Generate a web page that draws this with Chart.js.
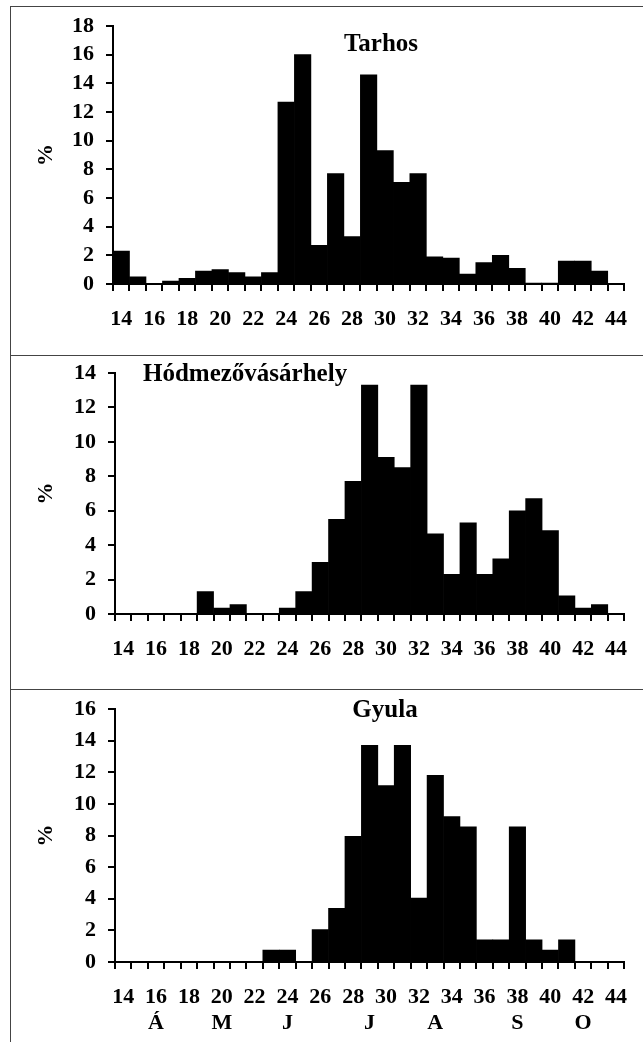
<!DOCTYPE html>
<html>
<head>
<meta charset="utf-8">
<script src="https://cdn.jsdelivr.net/npm/chart.js@4"></script>
<style>
  body { margin: 0; background: #fff; }
  #page { position: relative; width: 643px; height: 1042px; overflow: hidden; background: #fff; }
  .panel { position: absolute; left: 10px; width: 632px; border-left: 1px solid #444; border-top: 1px solid #444; }
  canvas { display: block; }
</style>
</head>
<body>
<div id="page">
  <div class="panel" style="top:6px;height:348px"><canvas id="tarhos" width="632" height="348"></canvas></div>
  <div class="panel" style="top:355px;height:333px"><canvas id="hod" width="632" height="333"></canvas></div>
  <div class="panel" style="top:689px;height:353px"><canvas id="gyula" width="632" height="353"></canvas></div>
</div>
<script>
// weeks of the year (category axis)
const weeks = [14, 15, 16, 17, 18, 19, 20, 21, 22, 23, 24, 25, 26, 27, 28, 29,
  30, 31, 32, 33, 34, 35, 36, 37, 38, 39, 40, 41, 42, 43, 44];

// month letters shown under the week numbers (bottom panel only)
const months = ['', '', 'Á', '', '', '', 'M', '', '', '', 'J', '', '', '', '', 'J',
  '', '', '', 'A', '', '', '', '', 'S', '', '', '', 'O', '', ''];

// % of catches per week
const tarhos = [2.3, 0.5, 0, 0.2, 0.4, 0.9, 1.0, 0.8, 0.5, 0.8, 12.7, 16.0, 2.7, 7.7, 3.3, 14.6,
  9.3, 7.1, 7.7, 1.9, 1.8, 0.7, 1.5, 2.0, 1.1, 0.05, 0.05, 1.6, 1.6, 0.9, 0];
const hodmezovasarhely = [0, 0, 0, 0, 0, 1.3, 0.35, 0.55, 0, 0, 0.35, 1.3, 3.0, 5.5, 7.7, 13.3,
  9.1, 8.5, 13.3, 4.65, 2.3, 5.3, 2.3, 3.2, 6.0, 6.7, 4.85, 1.05, 0.35, 0.55, 0];
const gyula = [0, 0, 0, 0, 0, 0, 0, 0, 0, 0.75, 0.75, 0, 2.05, 3.4, 7.95, 13.7,
  11.15, 13.7, 4.05, 11.8, 9.2, 8.55, 1.4, 1.4, 8.55, 1.4, 0.75, 1.4, 0, 0, 0];

const serif = '"Liberation Serif", "Times New Roman", serif';

const panelTitle = {
  id: 'panelTitle',
  afterDraw(chart, args, opts) {
    const {ctx, chartArea} = chart;
    ctx.save();
    ctx.font = 'bold 25px ' + serif;
    ctx.fillStyle = '#000';
    ctx.textAlign = opts.align;
    ctx.textBaseline = 'middle';
    ctx.fillText(opts.text, chartArea.left + opts.dx, chartArea.top + opts.dy);
    ctx.restore();
  }
};

function makeChart(id, name, values, yMax, o) {
  new Chart(document.getElementById(id), {
    type: 'bar',
    data: {
      labels: weeks,
      datasets: [{
        data: values,
        backgroundColor: '#000',
        borderWidth: 0,
        barPercentage: 1,
        categoryPercentage: 1
      }]
    },
    options: {
      responsive: false,
      animation: false,
      layout: { padding: { top: o.padTop, right: 1, left: 0, bottom: 0 } },
      plugins: {
        legend: { display: false },
        tooltip: { enabled: false },
        panelTitle: { text: name, dx: o.titleDx, dy: o.titleDy, align: o.titleAlign }
      },
      scales: {
        x: {
          afterFit: (s) => { s.height = o.xHeight; },
          border: { color: '#000', width: 2 },
          grid: { drawOnChartArea: false, color: '#000', lineWidth: 2, tickLength: 7 },
          ticks: {
            autoSkip: false, maxRotation: 0, minRotation: 0, padding: 16, color: '#000',
            font: { family: serif, size: 22, weight: 'bold', lineHeight: 1.15 },
            callback: function(value, index) {
              const num = weeks[index] % 2 === 0 ? String(weeks[index]) : '';
              return o.months ? [num, months[index]] : num;
            }
          }
        },
        y: {
          min: 0, max: yMax,
          afterFit: (s) => { s.width = o.yWidth; },
          border: { color: '#000', width: 2 },
          grid: { drawOnChartArea: false, color: '#000', lineWidth: 2, tickLength: 7 },
          ticks: {
            stepSize: 2, autoSkip: false, padding: 12, color: '#000',
            // small line height so the top label does not push the plot down
            font: { family: serif, size: 22, weight: 'bold', lineHeight: 0.4 }
          },
          title: {
            display: true, text: '%', color: '#000', padding: { top: 22, bottom: 0 },
            font: { family: serif, size: 22, weight: 'bold' }
          }
        }
      }
    },
    plugins: [panelTitle]
  });
}

makeChart('tarhos', 'Tarhos', tarhos, 18,
  { padTop: 19, xHeight: 71, yWidth: 102, titleDx: 268, titleDy: 19, titleAlign: 'center' });
makeChart('hod', 'Hódmezővásárhely', hodmezovasarhely, 14,
  { padTop: 17, xHeight: 75, yWidth: 104, titleDx: 28, titleDy: 2, titleAlign: 'left' });
makeChart('gyula', 'Gyula', gyula, 16,
  { padTop: 19, xHeight: 81, yWidth: 104, titleDx: 270, titleDy: 2, titleAlign: 'center', months: true });
</script>
</body>
</html>
